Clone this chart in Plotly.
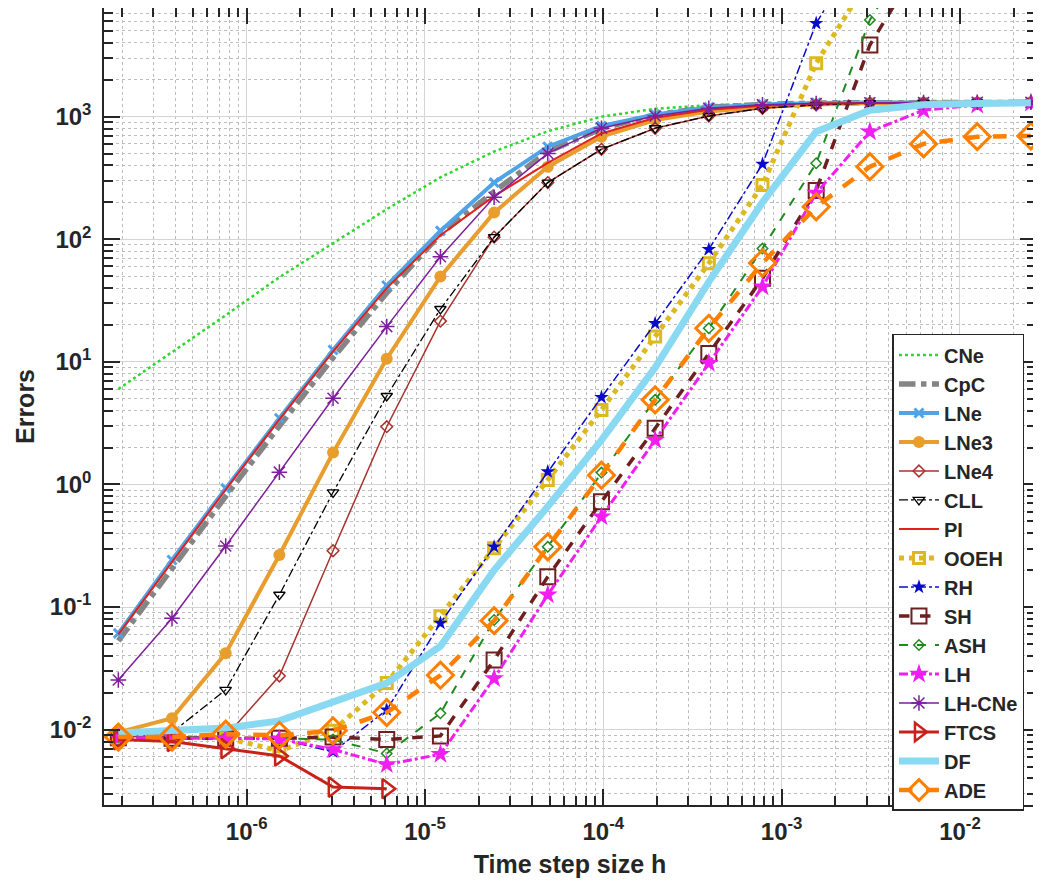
import plotly.graph_objects as go
import numpy as np

# time step sizes h
h = [1.9073e-7, 3.8147e-7, 7.6294e-7, 1.5259e-6, 3.0518e-6, 6.1035e-6,
     1.2207e-5, 2.4414e-5, 4.8828e-5, 9.7656e-5, 1.9531e-4, 3.9063e-4,
     7.8125e-4, 1.5625e-3, 3.125e-3, 6.25e-3, 1.25e-2, 2.5e-2]

CNe = [6.0, 12, 24, 49, 93, 176, 320, 520, 760, 1000, 1160, 1240, 1280, 1300, 1305, 1310, 1310, 1310]
CpC = [0.053, 0.21, 0.80, 3.0, 10.8, 36.5, 110, 245, 518, 800, 1040, 1190, 1260, 1295, 1305, 1310, 1310, 1310]
LNe = [0.061, 0.242, 0.93, 3.47, 12.5, 42, 117, 290, 569, 840, 1040, 1190, 1260, 1295, 1305, 1310, 1310, 1310]
LNe3 = [0.0095, 0.0124, 0.042, 0.266, 1.82, 10.6, 49.6, 165, 391, 687, 940, 1100, 1200, 1260, 1290, 1300, 1305, 1310]
LNe4 = [0.0088, 0.0087, 0.0088, 0.0274, 0.288, 2.96, 21.5, 104, 290, 542, 805, 1013, 1170, 1250, 1290, 1300, 1305, 1310]
CLL = [0.0086, 0.0095, 0.0211, 0.126, 0.863, 5.27, 27, 104, 290, 542, 805, 1013, 1170, 1250, 1290, 1300, 1305, 1310]
PI = [0.060, 0.235, 0.91, 3.4, 12.2, 40, 108, 225, 420, 730, 980, 1140, 1230, 1280, 1300, 1305, 1310, 1310]
OOEH = [0.0087, 0.0087, 0.0086, 0.0067, 0.0098, 0.024, 0.084, 0.302, 1.09, 4.05, 16.1, 63.7, 277, 2730, 13700]
RH = [0.0087, 0.0087, 0.0086, 0.0084, 0.0066, 0.0145, 0.074, 0.31, 1.27, 5.14, 20.6, 82.8, 411, 5780, 30000]
SH = [0.0086, 0.0085, 0.0085, 0.0085, 0.0087, 0.0083, 0.0089, 0.037, 0.177, 0.724, 2.87, 11.7, 48, 250, 3845, 20000]
ASH = [0.0087, 0.0087, 0.0086, 0.0085, 0.0083, 0.0064, 0.0136, 0.0785, 0.31, 1.25, 4.9, 18.8, 84, 417, 6150, 31000]
LH = [0.0086, 0.0086, 0.0085, 0.0084, 0.0069, 0.0052, 0.0063, 0.0262, 0.126, 0.546, 2.3, 9.75, 41, 238, 755, 1130, 1245, 1290]
LH_CNe = [0.0254, 0.081, 0.315, 1.26, 5.05, 19.4, 72, 220, 502, 804, 1013, 1170, 1250, 1280, 1300, 1305, 1310, 1310]
FTCS = [0.0083, 0.0080, 0.0070, 0.0061, 0.0034, 0.0033]
DF = [0.0094, 0.0097, 0.0103, 0.0118, 0.0166, 0.024, 0.048, 0.2, 0.66, 2.3, 9.0, 45, 200, 755, 1130, 1250, 1280, 1300]
ADE = [0.0087, 0.0087, 0.0092, 0.0090, 0.0098, 0.0138, 0.0278, 0.0775, 0.31, 1.19, 4.9, 18.8, 64, 184, 391, 600, 687, 696]

x_ticks = [1e-6, 1e-5, 1e-4, 1e-3, 1e-2]
x_ticktext = ["10<sup>-6</sup>", "10<sup>-5</sup>", "10<sup>-4</sup>", "10<sup>-3</sup>", "10<sup>-2</sup>"]
y_ticks = [1e-2, 1e-1, 1e0, 1e1, 1e2, 1e3]
y_ticktext = ["10<sup>-2</sup>", "10<sup>-1</sup>", "10<sup>0</sup>", "10<sup>1</sup>", "10<sup>2</sup>", "10<sup>3</sup>"]

FONT = "Liberation Sans, Arial, sans-serif"

series = [
    # name, y, color, width, dash, symbol, msize, mlinew
    ("CNe", CNe, "#2ED82E", 2.5, "dot", None, 0, 0),
    ("CpC", CpC, "#858585", 5.5, "dashdot", None, 0, 0),
    ("LNe", LNe, "#4FA3E6", 4, "solid", "x-thin", 9, 3),
    ("LNe3", LNe3, "#E89D2C", 4, "solid", "circle", 12, 0),
    ("LNe4", LNe4, "#A8322D", 1.5, "solid", "diamond-open", 9, 1.5),
    ("CLL", CLL, "#000000", 1.3, "dashdot", "triangle-down-open", 10, 1.3),
    ("PI", PI, "#E3201B", 2, "solid", None, 0, 0),
    ("OOEH", OOEH, "#DDB81E", 5, "dot", "square-open", 11, 3),
    ("RH", RH, "#0A0ACC", 1.5, "dashdot", "star", 11, 0),
    ("SH", SH, "#6E1F1F", 3.5, "dash", "square-open", 15, 2),
    ("ASH", ASH, "#1E8A1E", 2, "dash", "diamond-open", 8, 1.5),
    ("LH", LH, "#F01EF0", 3, "dashdot", "star", 15, 0),
    ("LH-CNe", LH_CNe, "#7E1E9C", 1.5, "solid", "asterisk-open", 13, 1.5),
    ("FTCS", FTCS, "#C8211A", 3, "solid", "triangle-right-open", 17, 2.5),
    ("DF", DF, "#8AD9F2", 7, "solid", None, 0, 0),
    ("ADE", ADE, "#FF8000", 4.5, "dash", "diamond-open", 20, 3),
]

fig = go.Figure()
for name, yv, color, w, dash, sym, ms, mlw in series:
    xs = h[:len(yv)]
    if sym is None:
        fig.add_trace(go.Scatter(x=xs, y=yv, name=name, mode="lines",
                                 line=dict(color=color, width=w, dash=dash)))
    else:
        fig.add_trace(go.Scatter(x=xs, y=yv, name=name, mode="lines+markers",
                                 line=dict(color=color, width=w, dash=dash),
                                 marker=dict(symbol=sym, size=ms, color=color,
                                             line=dict(color=color, width=mlw))))

minor_x = [m * 10.0 ** e for e in range(-7, -1) for m in range(2, 10)]
minor_y = [m * 10.0 ** e for e in range(-3, 4) for m in range(2, 10)]

axis_common = dict(
    type="log", showline=True, linecolor="#262626", linewidth=1.5, mirror="allticks",
    ticks="inside", ticklen=16, tickwidth=1.5, tickcolor="#262626",
    showgrid=True, gridcolor="#D4D4D4", gridwidth=1.2, zeroline=False, automargin=False,
    tickfont=dict(family=FONT, size=24, color="#262626", weight="bold"),
)

fig.update_xaxes(
    **axis_common,
    range=[np.log10(1.585e-7), np.log10(2.67e-2)],
    tickmode="array", tickvals=x_ticks, ticktext=x_ticktext,
    minor=dict(tickmode="array", tickvals=minor_x, ticks="inside", ticklen=9,
               tickcolor="#262626", showgrid=True, gridcolor="#BDBDBD", griddash="dot", gridwidth=1),
    title=dict(text="Time step size h", font=dict(family=FONT, size=25, color="#262626", weight="bold"),
               standoff=12),
    ticklabelstandoff=4,
)
fig.update_yaxes(
    **axis_common,
    range=[np.log10(2.43e-3), np.log10(7.7e3)],
    tickmode="array", tickvals=y_ticks, ticktext=y_ticktext,
    minor=dict(tickmode="array", tickvals=minor_y, ticks="inside", ticklen=9,
               tickcolor="#262626", showgrid=True, gridcolor="#BDBDBD", griddash="dot", gridwidth=1),
    title=dict(text="Errors", font=dict(family=FONT, size=25, color="#262626", weight="bold"),
               standoff=8),
    ticklabelstandoff=6,
)

fig.update_layout(
    width=1033, height=880,
    margin=dict(l=96, r=5, t=0, b=83),
    paper_bgcolor="white", plot_bgcolor="white",
    showlegend=True,
    legend=dict(x=0.846, y=0.591, xanchor="left", yanchor="top",
                bgcolor="white", bordercolor="#262626", borderwidth=1.5,
                font=dict(family=FONT, size=20, color="#262626", weight="bold"),
                tracegroupgap=0, itemwidth=40),
)

fig.write_html("out.html")
